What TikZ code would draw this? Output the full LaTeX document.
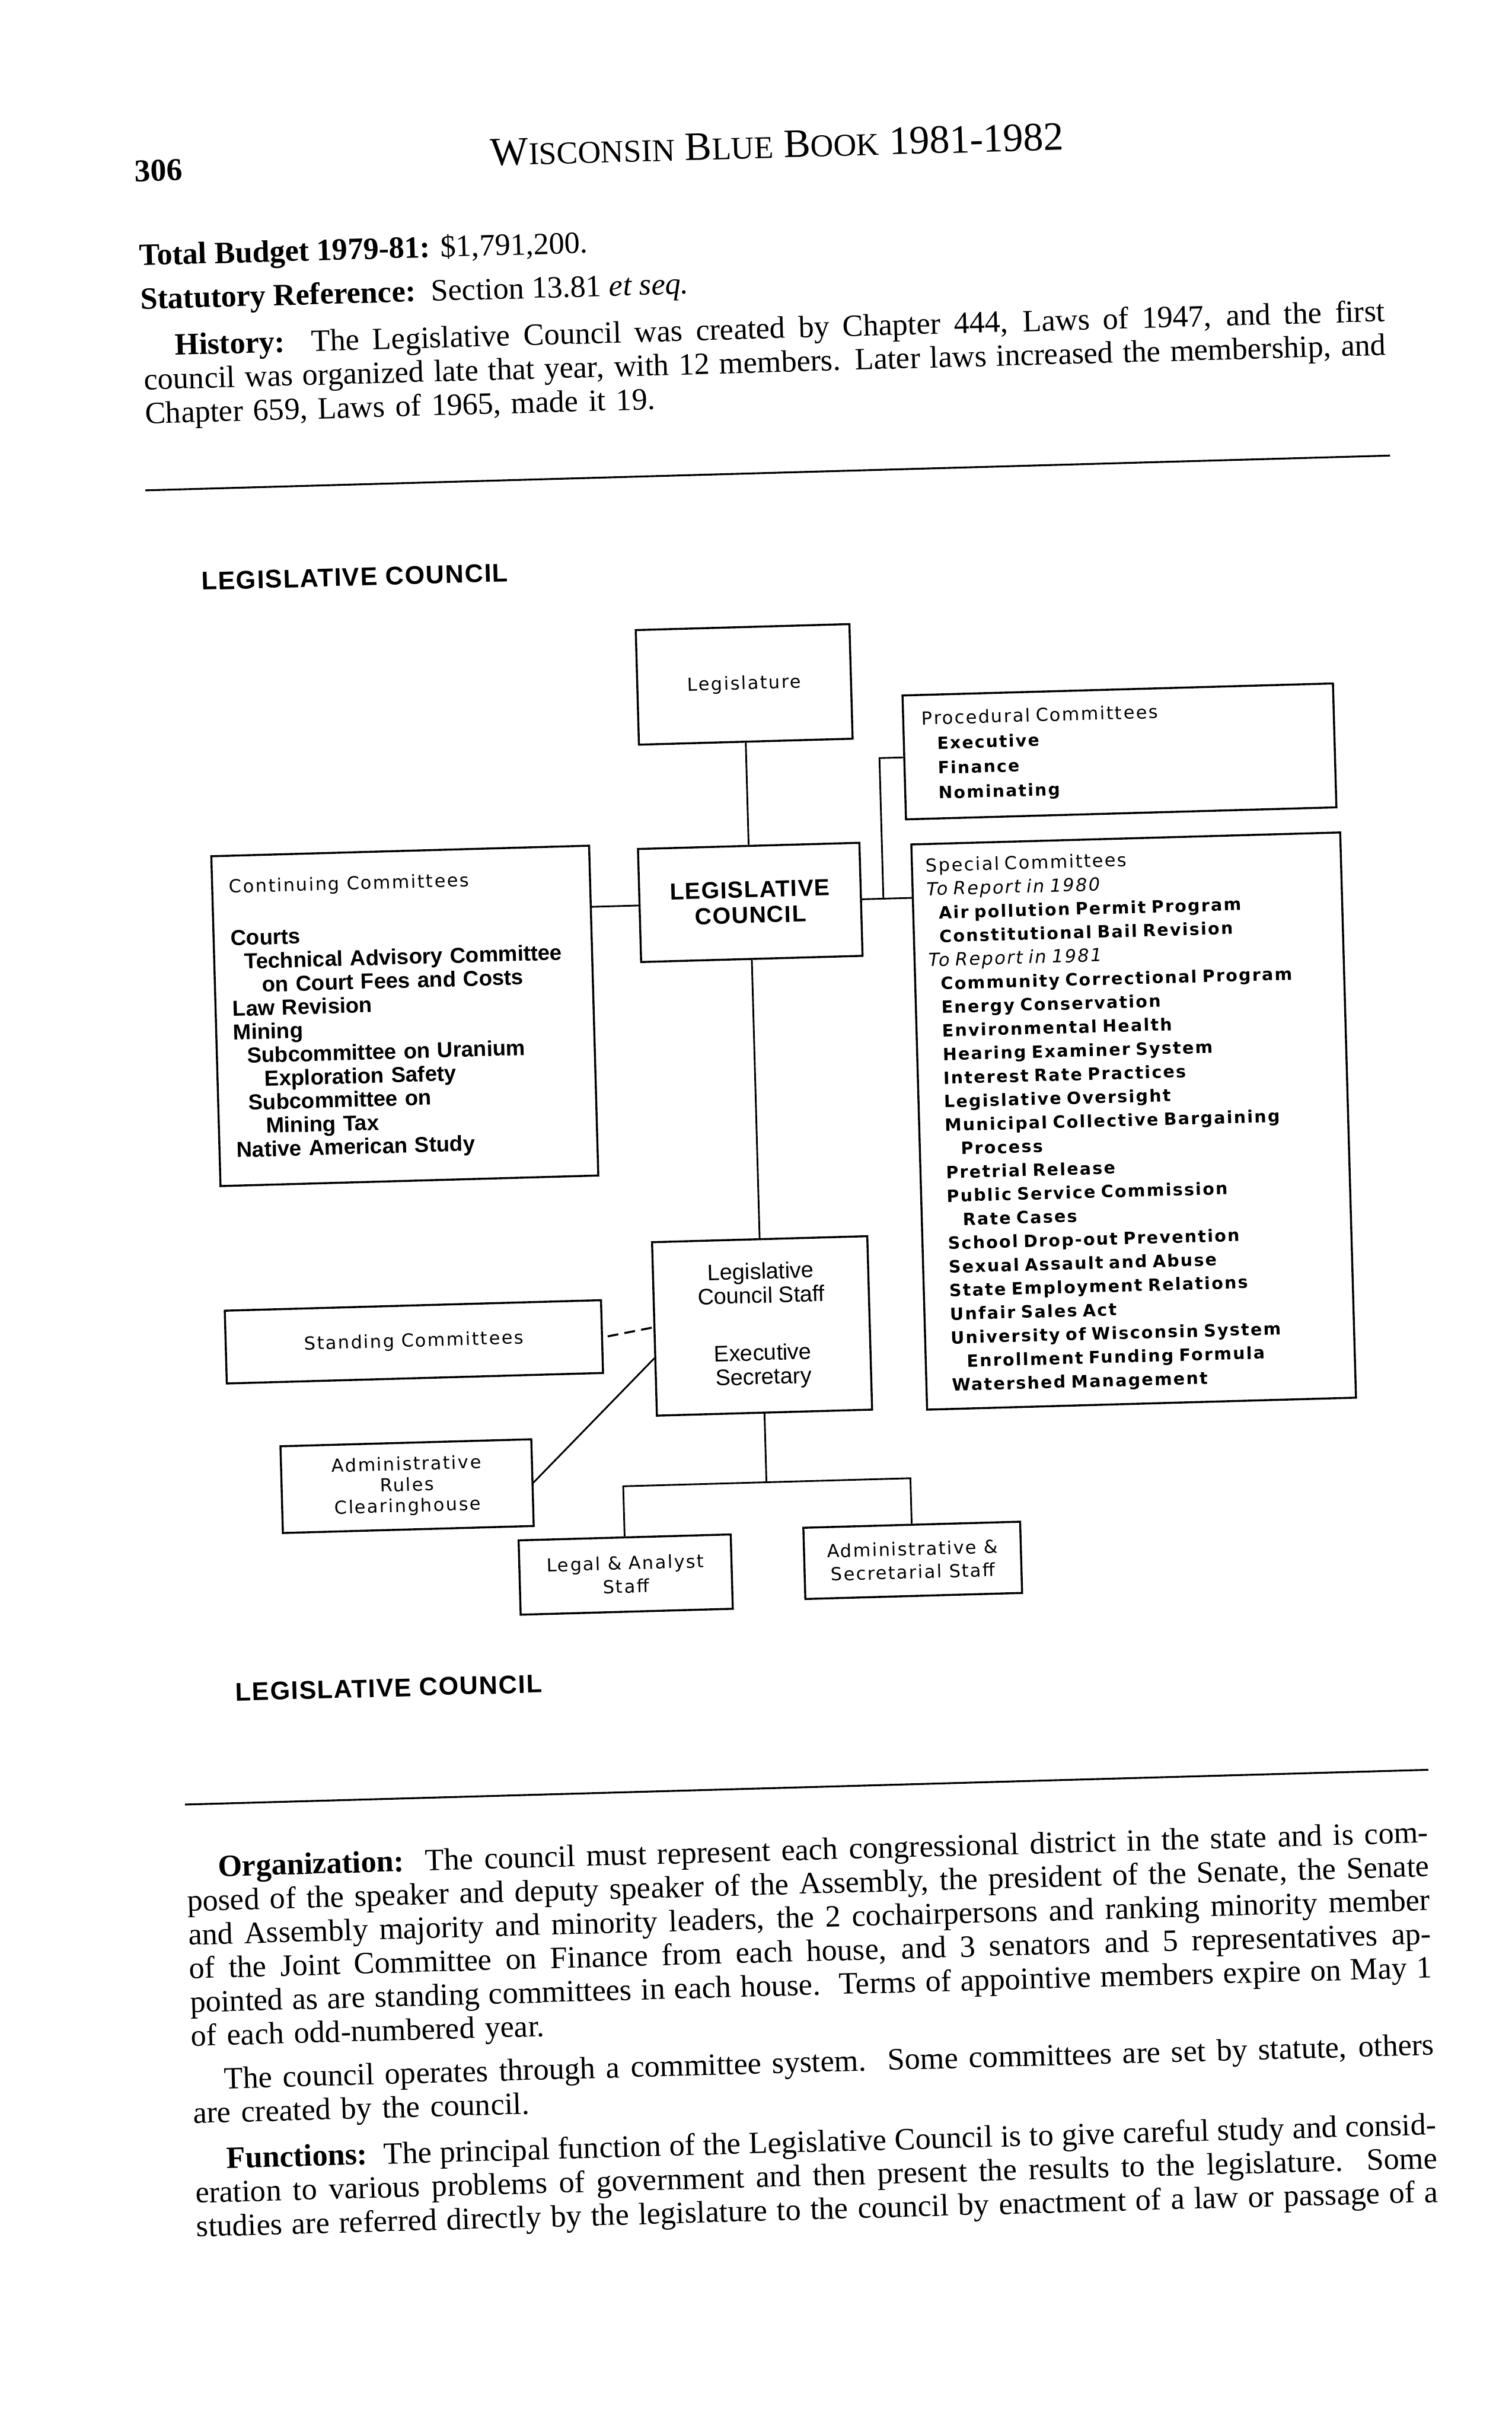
\documentclass[tikz,border=0pt]{standalone}
\usepackage{fontspec}
\setmainfont{Liberation Serif}
\newfontfamily\chartwide[LetterSpace=8]{DejaVu Sans}
\newfontfamily\charthead[LetterSpace=4]{Liberation Sans}
\newfontfamily\chartsans{Liberation Sans}
\usetikzlibrary{positioning}
\newcommand\bodyfont{\fontsize{20}{21.8}\selectfont}
\newcommand\bodyline[1]{\leavevmode\hbox to 802pt{\spaceskip=0.25em plus 1em minus 0.1em\xspaceskip=0.4em plus 1em minus 0.1em\relax #1}}
\newcommand\smcap[1]{{\fontsize{20.5}{24}\selectfont #1}}

\begin{document}
\begin{tikzpicture}[x=1pt, y=-1pt,
        txt/.style={inner sep=0pt},
        bodytext/.style={inner sep=0pt, anchor=base west, font=\bodyfont},
        bodypar/.style={bodytext, text width=802pt, align=left},
        charttitle/.style={inner sep=0pt, anchor=base west, font=\charthead\bfseries\fontsize{16.5}{18}\selectfont},
        orgbox/.style={draw, line width=1.3pt, inner sep=0pt, align=center,
                       font=\chartwide\fontsize{11.6}{13.5}\selectfont},
        listbox/.style={draw, line width=1.3pt, inner ysep=0pt, align=left},
        link/.style={line width=1.1pt},
        dashlink/.style={line width=1.3pt, dash pattern=on 7pt off 4pt},
        rule/.style={line width=1.2pt}
    ]
    \fill[white] (0,0) rectangle (976,1568);
    \useasboundingbox (0,0) rectangle (976,1568);

    \begin{scope}[rotate around={1.6:(488,784)}, transform shape]
        % page head
        \node[txt, anchor=base west, font=\bfseries\fontsize{20.5}{24}\selectfont] (pageno) at (105.7,106.2) {306};
        \node[txt, anchor=base, font=\fontsize{26}{30}\selectfont] (runhead) at (521,102.5)
            {W\smcap{ISCONSIN} B\smcap{LUE} B\smcap{OOK} 1981-1982};

        % text above the chart
        \node[bodytext] (budget) at (107,160.5) {\textbf{Total Budget 1979-81:} \$1,791,200.};
        \node[bodytext] (statref) at (107,188.7) {\textbf{Statutory Reference:}\ \ Section 13.81 \textit{et seq.}};
        \node[bodypar] (history) at (108,219) {%
            \bodyline{\hspace*{20.5pt}\textbf{History:}\ \ The Legislative Council was created by Chapter 444, Laws of 1947, and the first}\\
            \bodyline{council was organized late that year, with 12 members. Later laws increased the membership, and}\\
            Chapter 659, Laws of 1965, made it 19.};
        \coordinate (topruleL) at (107,305.7);
        \coordinate (topruleR) at (911,305.7);
        \draw[rule] (topruleL) -- (topruleR);

        % chart
        \node[charttitle] (titletop) at (141.5,371) {LEGISLATIVE COUNCIL};

        \node[orgbox, minimum width=138pt, minimum height=74pt] (legis) at (490,441.7) {Legislature};
        \node[orgbox, minimum width=143pt, minimum height=73pt,
              font=\charthead\bfseries\fontsize{15}{16.5}\selectfont] (council) at (490,582.5) {LEGISLATIVE\\COUNCIL};
        \node[orgbox, minimum width=139pt, minimum height=112pt,
              font=\chartsans\fontsize{14.5}{15.5}\selectfont] (staff) at (490,856)
            {Legislative\\Council Staff\\[21.5pt]Executive\\Secretary};

        \node[listbox, inner xsep=11pt, text width=222pt, minimum height=213pt,
              font=\chartsans\bfseries\fontsize{14}{15.2}\selectfont] (continuing) at (265,649.5) {%
            {\chartwide\mdseries\fontsize{11.6}{15.2}\selectfont Continuing Committees}\\[18.8pt]
            Courts\\
            \hspace*{8.5pt}Technical Advisory Committee\\
            \hspace*{19.5pt}on Court Fees and Costs\\
            Law Revision\\
            Mining\\
            \hspace*{8.5pt}Subcommittee on Uranium\\
            \hspace*{19.5pt}Exploration Safety\\
            \hspace*{8.5pt}Subcommittee on\\
            \hspace*{19.5pt}Mining Tax\\
            Native American Study};

        \node[listbox, inner xsep=12pt, text width=254pt, minimum height=80pt,
              font=\chartwide\bfseries\fontsize{10.8}{16}\selectfont] (procedural) at (731,491.7) {%
            {\mdseries\fontsize{11.6}{16}\selectfont Procedural Committees}\\
            \hspace*{9.5pt}Executive\\
            \hspace*{9.5pt}Finance\\
            \hspace*{9.5pt}Nominating};

        \node[listbox, inner xsep=9pt, text width=259pt, minimum height=365pt,
              font=\chartwide\bfseries\fontsize{10.9}{15.25}\selectfont] (special) at (733.5,730.5) {%
            {\mdseries\fontsize{11.6}{15.25}\selectfont Special Committees}\\
            {\mdseries\itshape\fontsize{11.6}{15.25}\selectfont To Report in 1980}\\
            \hspace*{7.5pt}Air pollution Permit Program\\
            \hspace*{7.5pt}Constitutional Bail Revision\\
            {\mdseries\itshape\fontsize{11.6}{15.25}\selectfont To Report in 1981}\\
            \hspace*{7.5pt}Community Correctional Program\\
            \hspace*{7.5pt}Energy Conservation\\
            \hspace*{7.5pt}Environmental Health\\
            \hspace*{7.5pt}Hearing Examiner System\\
            \hspace*{7.5pt}Interest Rate Practices\\
            \hspace*{7.5pt}Legislative Oversight\\
            \hspace*{7.5pt}Municipal Collective Bargaining\\
            \hspace*{17.5pt}Process\\
            \hspace*{7.5pt}Pretrial Release\\
            \hspace*{7.5pt}Public Service Commission\\
            \hspace*{17.5pt}Rate Cases\\
            \hspace*{7.5pt}School Drop-out Prevention\\
            \hspace*{7.5pt}Sexual Assault and Abuse\\
            \hspace*{7.5pt}State Employment Relations\\
            \hspace*{7.5pt}Unfair Sales Act\\
            \hspace*{7.5pt}University of Wisconsin System\\
            \hspace*{17.5pt}Enrollment Funding Formula\\
            \hspace*{7.5pt}Watershed Management};

        \node[orgbox, minimum width=243pt, minimum height=47pt] (standing) at (265,860) {Standing Committees};
        \node[orgbox, minimum width=162pt, minimum height=56pt] (rulesch) at (258,953)
            {Administrative\\Rules\\Clearinghouse};
        \node[orgbox, minimum width=137pt, minimum height=48pt,
              font=\chartwide\fontsize{11.6}{15}\selectfont] (legal) at (397.5,1014) {Legal \& Analyst\\Staff};
        \node[orgbox, minimum width=140pt, minimum height=46pt,
              font=\chartwide\fontsize{11.6}{15}\selectfont] (adminsec) at (583,1010) {Administrative \&\\Secretarial Staff};

        % connectors
        \draw[link] (legis) -- (council);
        \draw[link] (council.west) -- (continuing.east |- council.west);
        \draw[link] (council.east) -- (special.west |- council.east);
        \coordinate (bracket) at (576,582.5);
        \draw[link] (bracket) |- (procedural.west);
        \draw[link] (council) -- (staff);
        \draw[dashlink] ([xshift=3pt]standing.east) -- ([yshift=1pt]staff.west);
        \draw[link] (rulesch.east) -- ([yshift=-19pt]staff.west);
        \coordinate (split) at (490,957);
        \draw[link] (staff.south) -- (split);
        \draw[link] (legal.north) -- (legal.north |- split) -- (adminsec.north |- split) -- (adminsec.north);

        \node[charttitle] (titlebottom) at (143.4,1088.6) {LEGISLATIVE COUNCIL};

        % text below the chart
        \coordinate (botruleL) at (109,1154.5);
        \coordinate (botruleR) at (912,1154.5);
        \draw[rule] (botruleL) -- (botruleR);

        \node[bodypar] (organization) at (108.5,1201.5) {%
            \bodyline{\hspace*{20.5pt}\textbf{Organization:}\ \ The council must represent each congressional district in the state and is com-}\\
            \bodyline{posed of the speaker and deputy speaker of the Assembly, the president of the Senate, the Senate}\\
            \bodyline{and Assembly majority and minority leaders, the 2 cochairpersons and ranking minority member}\\
            \bodyline{of the Joint Committee on Finance from each house, and 3 senators and 5 representatives ap-}\\
            \bodyline{pointed as are standing committees in each house.\ \ Terms of appointive members expire on May 1}\\
            of each odd-numbered year.};
        \node[bodypar] (operates) at (108.5,1338.5) {%
            \bodyline{\hspace*{20.5pt}The council operates through a committee system.\ \ Some committees are set by statute, others}\\
            are created by the council.};
        \node[bodypar] (functions) at (108.5,1390) {%
            \bodyline{\hspace*{20.5pt}\textbf{Functions:}\ \ The principal function of the Legislative Council is to give careful study and consid-}\\
            \bodyline{eration to various problems of government and then present the results to the legislature.\ \ Some}\\
            \bodyline{studies are referred directly by the legislature to the council by enactment of a law or passage of a}};
    \end{scope}
\end{tikzpicture}
\end{document}
